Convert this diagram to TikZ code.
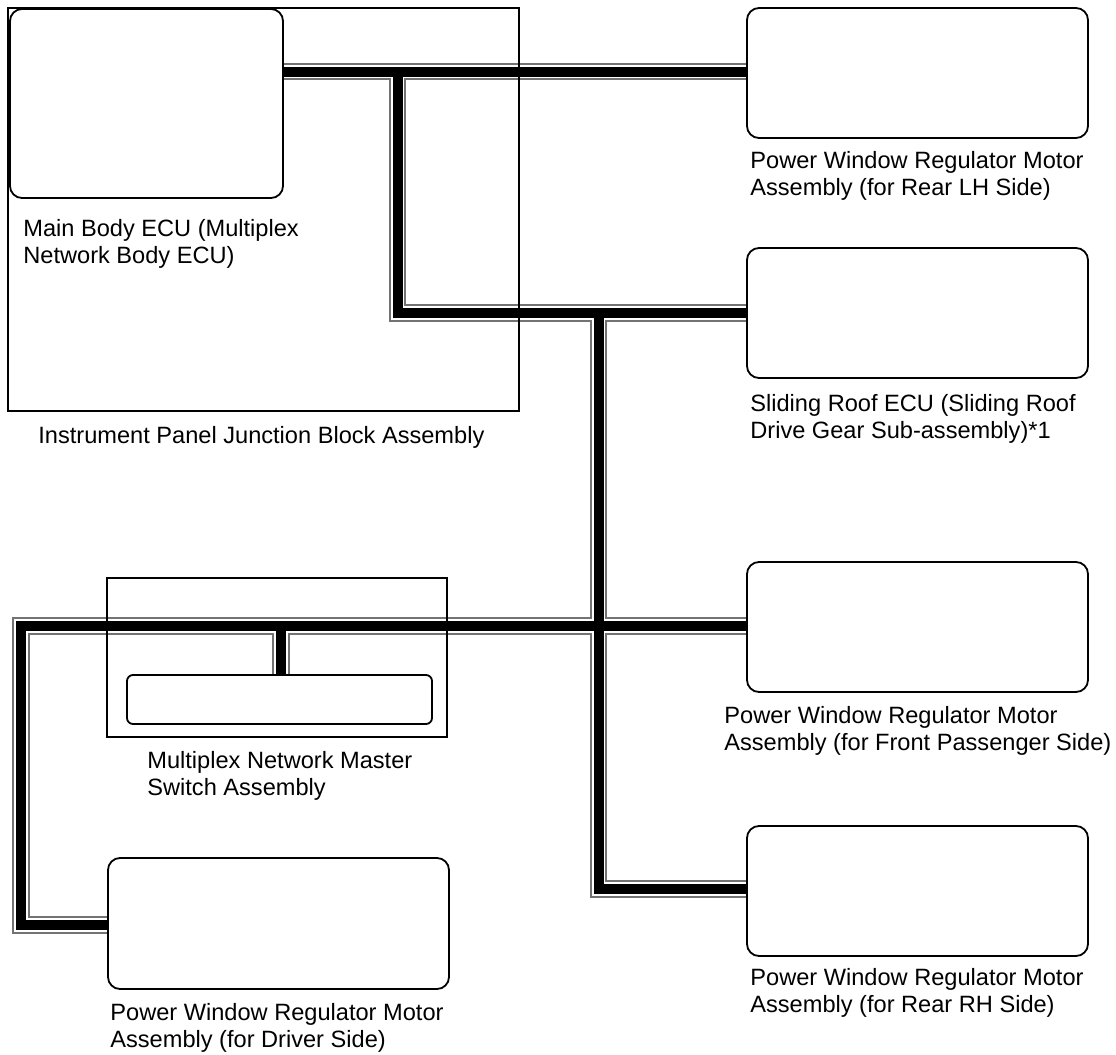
\documentclass[tikz,border=0pt]{standalone}
\usepackage{fontspec}
\setmainfont{Liberation Sans}
\usetikzlibrary{backgrounds}

\begin{document}
\begin{tikzpicture}[x=0.5pt, y=-0.5pt,
    unit/.style={draw, line width=0.9pt, rounded corners=6pt, inner sep=0pt,
        minimum width=170.5pt, minimum height=65pt},
    block/.style={draw, line width=0.9pt, inner sep=0pt},
    lbl/.style={anchor=north west, inner sep=0pt, align=left,
        font=\fontsize{11.8pt}{13.6pt}\selectfont}]
    \useasboundingbox (0,0) rectangle (1116,1055);

    % ECUs and motors
    \node[block, minimum width=255.5pt, minimum height=201.5pt] (jblock) at (263.5,209.5) {};
    \node[unit, minimum width=136.5pt, minimum height=94.5pt] (mainecu) at (146.5,103.5) {};
    \node[unit] (rearlh) at (917.5,73) {};
    \node[unit] (roof) at (917.5,313) {};
    \node[unit] (frontpass) at (917.5,627) {};
    \node[unit] (rearrh) at (917.5,891) {};
    \node[unit, minimum height=65.5pt] (driver) at (278.5,923.5) {};
    \node[block, minimum width=170pt, minimum height=79.5pt] (switch) at (277,657.5) {};
    \node[unit, rounded corners=3pt, minimum width=152.5pt, minimum height=24.5pt] (master) at (279.5,699.5) {};

    % labels
    \node[lbl] (mainecu-l) at (23,219) {Main Body ECU (Multiplex\\Network Body ECU)};
    \node[lbl] (jblock-l) at (38,426) {Instrument Panel Junction Block Assembly};
    \node[lbl] (rearlh-l) at (750,151) {Power Window Regulator Motor\\Assembly (for Rear LH Side)};
    \node[lbl] (roof-l) at (750,394) {Sliding Roof ECU (Sliding Roof\\Drive Gear Sub-assembly)*1};
    \node[lbl] (frontpass-l) at (724,706) {Power Window Regulator Motor\\Assembly (for Front Passenger Side)};
    \node[lbl] (switch-l) at (147,751) {Multiplex Network Master\\Switch Assembly};
    \node[lbl] (rearrh-l) at (750,968) {Power Window Regulator Motor\\Assembly (for Rear RH Side)};
    \node[lbl] (driver-l) at (110,1003) {Power Window Regulator Motor\\Assembly (for Driver Side)};

    % bus corners
    \coordinate (t1) at (397.5,71.5);
    \coordinate (t2) at (397.5,313);
    \coordinate (t3) at (598.5,313);
    \coordinate (t5) at (598.5,889);
    \coordinate (t6) at (21,626);
    \coordinate (t7) at (21,925);
    \coordinate (t8) at (281,626);

    % multiplex bus: gray edge, white gap, black core
    \begin{scope}[on background layer]
    \foreach \w/\c in {8.6pt/black!55, 6.6pt/white, 5pt/black} {
        \draw[line width=\w, \c]
            (mainecu.east |- t1) -- (rearlh.west |- t1)
            (t1) -- (t2) -- (roof.west)
            (t3) -- (t5) -- (rearrh.west |- t5)
            (driver.west |- t7) -- (t7) -- (t6) -- (frontpass.west |- t6)
            (t8) -- (t8 |- master.north);
    }
    \end{scope}
\end{tikzpicture}
\end{document}
